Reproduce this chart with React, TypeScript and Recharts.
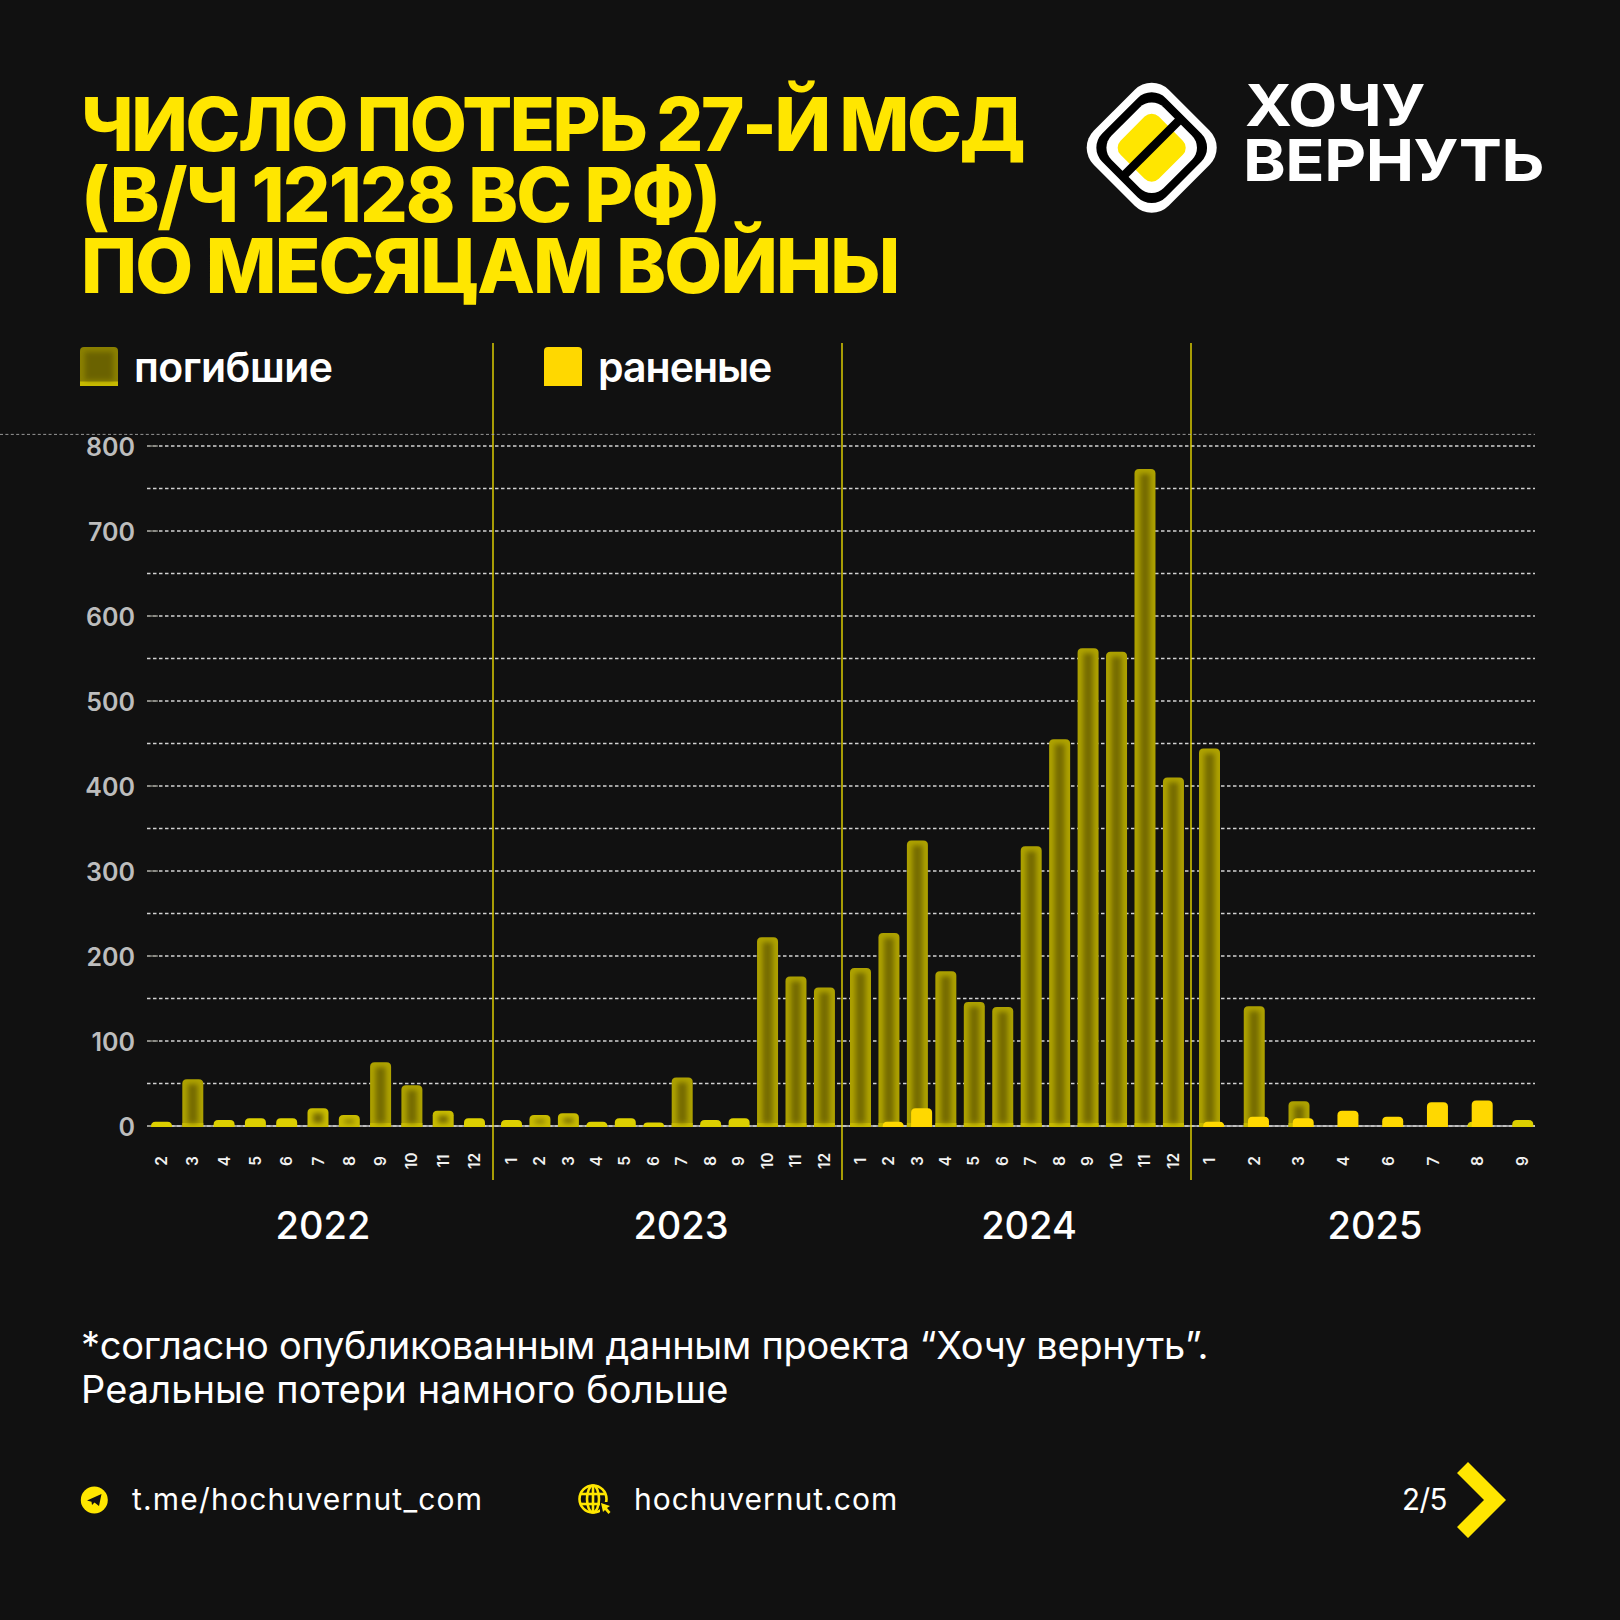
import React from "react";
import { BarChart, Bar, XAxis, YAxis, CartesianGrid } from "recharts";

const months2022 = ["2", "3", "4", "5", "6", "7", "8", "9", "10", "11", "12"];
const dead2022 = [5, 55, 7, 9, 9, 21, 13, 75, 48, 18, 9];
const wounded2022 = [0, 0, 0, 0, 0, 0, 0, 0, 0, 0, 0];

const months2023 = ["1", "2", "3", "4", "5", "6", "7", "8", "9", "10", "11", "12"];
const dead2023 = [7, 13, 15, 5, 9, 4, 57, 7, 9, 222, 176, 163];
const wounded2023 = [0, 0, 0, 0, 0, 0, 0, 0, 0, 0, 0, 0];

const months2024 = ["1", "2", "3", "4", "5", "6", "7", "8", "9", "10", "11", "12"];
const dead2024 = [186, 227, 336, 182, 146, 140, 329, 455, 562, 558, 773, 410];
const wounded2024 = [0, 5, 21, 0, 0, 0, 0, 0, 0, 0, 0, 0];

const months2025 = ["1", "2", "3", "4", "6", "7", "8", "9"];
const dead2025 = [444, 141, 29, 0, 0, 0, 5, 7];
const wounded2025 = [5, 11, 9, 18, 11, 28, 30, 0];

const yTicks = [0, 50, 100, 150, 200, 250, 300, 350, 400, 450, 500, 550, 600, 650, 700, 750, 800];
const titleLines = ["ЧИСЛО ПОТЕРЬ 27-Й МСД", "(В/Ч 12128 ВС РФ)", "ПО МЕСЯЦАМ ВОЙНЫ"];
const noteLines = ["*согласно опубликованным данным проекта “Хочу вернуть”.", "Реальные потери намного больше"];

const BG = "#111111";
const YELLOW = "#FFE600";
const WOUNDED = "#FFD800";
const FONT = "Inter, sans-serif";

const PLOT_TOP = 445.5;
const PLOT_H = 680;
const MARGIN_TOP = 24;
const AXIS_H = 60;
const CHART_H = MARGIN_TOP + PLOT_H + AXIS_H;

const table = (m: string[], d: number[], w: number[]) =>
  m.map((month, i) => ({ month, dead: d[i], wounded: w[i] }));

const panels = [
  { left: 148.15, width: 344.3, rows: table(months2022, dead2022, wounded2022) },
  { left: 499.3, width: 341.4, rows: table(months2023, dead2023, wounded2023) },
  { left: 847.9, width: 341.4, rows: table(months2024, dead2024, wounded2024) },
  { left: 1189.4, width: 358, rows: table(months2025, dead2025, wounded2025) },
];

const allRows = panels.flatMap((p) => p.rows);

function topRound(x: number, y: number, w: number, h: number, r0: number) {
  const r = Math.min(r0, h, w / 2);
  const b = y + h;
  return `M${x},${b}V${y + r}Q${x},${y} ${x + r},${y}H${x + w - r}Q${x + w},${y} ${x + w},${y + r}V${b}Z`;
}

function DeadBar(props: any) {
  const { x, y, width, height } = props;
  if (!height || height <= 0) return null;
  const h = height + 1;
  const edge = h < 11 ? "#dccf00" : h < 24 ? "#c9bc00" : "#aea200";
  const ih = h - 9;
  return (
    <g>
      <path d={topRound(x, y, width, h, 4.5)} fill={edge} />
      {h >= 24 && <rect x={x} y={y + h - 4} width={width} height={4} fill="#c8bb00" />}
      {ih > 0 && (
        <rect x={x + 5.5} y={y + 5} width={width - 11} height={ih} fill="#766c00" filter="url(#soft)" />
      )}
    </g>
  );
}

function WoundedBar(props: any) {
  const { x, y, width, height } = props;
  if (!height || height <= 0) return null;
  return <path d={topRound(x, y, width, height + 1, 4.5)} fill={WOUNDED} />;
}

function MonthTick(props: any) {
  const { x, y, payload } = props;
  const px = x - 2.1;
  const py = y + 27;
  return (
    <text
      transform={`translate(${px},${py}) rotate(-90)`}
      textAnchor="middle"
      dominantBaseline="central"
      fontFamily={FONT}
      fontSize={15.5}
      fontWeight={600}
      fill="#f2f2f2"
    >
      {payload.value}
    </text>
  );
}

function ValueTick(props: any) {
  const { y, payload } = props;
  if (payload.value % 100 !== 0) return null;
  return (
    <g>
      <line x1={147} x2={158} y1={y} y2={y} stroke="#85857c" strokeWidth={1.4} />
      <text
        x={135}
        y={y + 1}
        textAnchor="end"
        dominantBaseline="central"
        fontFamily={FONT}
        fontSize={25}
        fontWeight={600}
        fill="#bdbdbd"
      >
        {payload.value}
      </text>
    </g>
  );
}

function Txt(props: any) {
  const { x, y, size, weight = 400, fill = "#ffffff", ls = 0, ws = 0, anchor = "start", sx = 1, children } = props;
  return (
    <text
      transform={`translate(${x},${y}) scale(${sx},1)`}
      fontFamily={FONT}
      fontSize={size}
      fontWeight={weight}
      fill={fill}
      letterSpacing={ls}
      wordSpacing={ws}
      textAnchor={anchor}
    >
      {children}
    </text>
  );
}

function Overlay() {
  const titleSize = [74, 75, 75];
  const titleLs = [-2.4, -1.9, -1.9];
  const titleWs = [-3, 0, 0];
  const noteLs = [-0.3, 0.1];
  return (
    <svg width={1620} height={1620} style={{ position: "absolute", left: 0, top: 0 }}>
      <defs>
        <filter id="soft" x="-100%" y="-100%" width="300%" height="300%">
          <feGaussianBlur stdDeviation="2.6" />
        </filter>
      </defs>

      {titleLines.map((t, i) => (
        <Txt key={t} x={81} y={151 + i * 71} size={titleSize[i]} weight={800} fill={YELLOW} ls={titleLs[i]} ws={titleWs[i]}>
          {t}
        </Txt>
      ))}

      <g transform="translate(1151.7,147.7) rotate(45)">
        <rect x={-53} y={-53} width={106} height={106} rx={24} fill="#ffffff" />
        <rect x={-45} y={-45} width={90} height={90} rx={20} fill="#000000" />
        <rect x={-37} y={-37} width={74} height={74} rx={17} fill="#ffffff" />
        <rect x={-27} y={-27} width={54} height={54} rx={10} fill={YELLOW} />
        <rect x={-4.3} y={-40} width={8.6} height={80} fill="#000000" />
      </g>
      <Txt x={1245} y={125.5} size={58} weight={700} ls={-0.4} sx={1.096}>ХОЧУ</Txt>
      <Txt x={1243} y={181} size={58} weight={700} ls={-0.4} sx={1.116}>ВЕРНУТЬ</Txt>

      <g>
        <path d={topRound(80, 347, 38, 39, 4)} fill="#8a8000" />
        <rect x={80} y={381.5} width={38} height={4.5} fill="#c8bb00" />
        <rect x={85} y={352} width={28} height={28} fill="#6a6200" filter="url(#soft)" />
        <Txt x={134} y={382} size={41} weight={600} ls={-0.5}>погибшие</Txt>
        <path d={topRound(544, 347, 38, 39, 4)} fill={WOUNDED} />
        <Txt x={598} y={382} size={41} weight={600} ls={-1}>раненые</Txt>
      </g>

      <Txt x={323} y={1239} size={38} weight={500} anchor="middle">2022</Txt>
      <Txt x={681} y={1239} size={38} weight={500} anchor="middle">2023</Txt>
      <Txt x={1029} y={1239} size={38} weight={500} anchor="middle">2024</Txt>
      <Txt x={1375} y={1239} size={38} weight={500} anchor="middle">2025</Txt>

      {noteLines.map((t, i) => (
        <Txt key={t} x={81} y={1359 + i * 43.5} size={38} ls={noteLs[i]}>
          {t}
        </Txt>
      ))}

      <circle cx={94.3} cy={1500} r={13.5} fill={YELLOW} />
      <path d="M87,1500.5 L101.5,1494 L99,1506 L94.5,1502.5 L92,1505 L91.5,1501.8 Z" fill={BG} />
      <Txt x={132} y={1510} size={30} ls={1.2}>t.me/hochuvernut_com</Txt>

      <g fill="none" stroke={YELLOW} strokeWidth={2.6}>
        <circle cx={593} cy={1499} r={13.5} />
        <ellipse cx={593} cy={1499} rx={6} ry={13.5} />
        <line x1={593} x2={593} y1={1485.5} y2={1512.5} />
        <line x1={581} x2={605} y1={1494} y2={1494} />
        <line x1={581} x2={603} y1={1504} y2={1504} />
      </g>
      <path d="M600,1502 H612 V1514 H600 Z" fill={BG} />
      <path d="M601,1503 L610,1506 L607,1508 L610.5,1512 L608.5,1514 L605,1510 L603,1512 Z" fill={YELLOW} />
      <Txt x={634} y={1510} size={30} ls={1}>hochuvernut.com</Txt>

      <Txt x={1402} y={1510} size={29.5} ls={-0.5}>2/5</Txt>
      <path d="M1468,1462 L1506,1500 L1468,1538 L1457,1527 L1484,1500 L1457,1473 Z" fill={YELLOW} />
    </svg>
  );
}

function Dividers() {
  return (
    <svg width={1620} height={1620} style={{ position: "absolute", left: 0, top: 0, pointerEvents: "none" }}>
      {[493, 842, 1191].map((x) => (
        <line key={x} x1={x} x2={x} y1={343} y2={1180} stroke="#E8D900" strokeWidth={1.4} />
      ))}
      <line x1={0} x2={1535} y1={434.4} y2={434.4} stroke="#a5a5a5" strokeWidth={0.9} strokeDasharray="3 2.4" />
    </svg>
  );
}

function YearPanel({ left, width, rows }: { left: number; width: number; rows: any[] }) {
  return (
    <div style={{ position: "absolute", left, top: PLOT_TOP - MARGIN_TOP, width, height: CHART_H }}>
      <BarChart
        width={width}
        height={CHART_H}
        data={rows}
        margin={{ top: MARGIN_TOP, right: 0, bottom: 0, left: 0 }}
        barSize={21}
        barGap={-16.8}
        barCategoryGap={0}
      >
        <XAxis
          dataKey="month"
          interval={0}
          height={AXIS_H}
          axisLine={false}
          tickLine={false}
          tick={MonthTick}
        />
        <YAxis hide domain={[0, 800]} ticks={yTicks} />
        <Bar dataKey="dead" shape={DeadBar} isAnimationActive={false} />
        <Bar dataKey="wounded" shape={WoundedBar} isAnimationActive={false} />
      </BarChart>
    </div>
  );
}

export default function App() {
  return (
    <div style={{ position: "absolute", left: 0, top: 0, width: 1620, height: 1620, background: BG, overflow: "hidden" }}>
      <Overlay />
      <div style={{ position: "absolute", left: 0, top: PLOT_TOP - MARGIN_TOP }}>
        <BarChart
          width={1620}
          height={CHART_H}
          data={allRows}
          margin={{ top: MARGIN_TOP, right: 85, bottom: 0, left: 0 }}
        >
          <CartesianGrid
            horizontal
            vertical={false}
            stroke="#d2d2d2"
            strokeWidth={1.3}
            strokeDasharray="3.5 2.5"
          />
          <XAxis
            dataKey="month"
            height={AXIS_H}
            tick={false}
            tickLine={false}
            axisLine={{ stroke: "#c8c8c8", strokeWidth: 1.6 }}
          />
          <YAxis
            width={147}
            domain={[0, 800]}
            ticks={yTicks}
            interval={0}
            axisLine={false}
            tickLine={false}
            tick={ValueTick}
          />
          <Bar dataKey="dead" shape={() => null} isAnimationActive={false} />
        </BarChart>
      </div>
      {panels.map((p) => (
        <YearPanel key={p.left} left={p.left} width={p.width} rows={p.rows} />
      ))}
      <Dividers />
    </div>
  );
}
